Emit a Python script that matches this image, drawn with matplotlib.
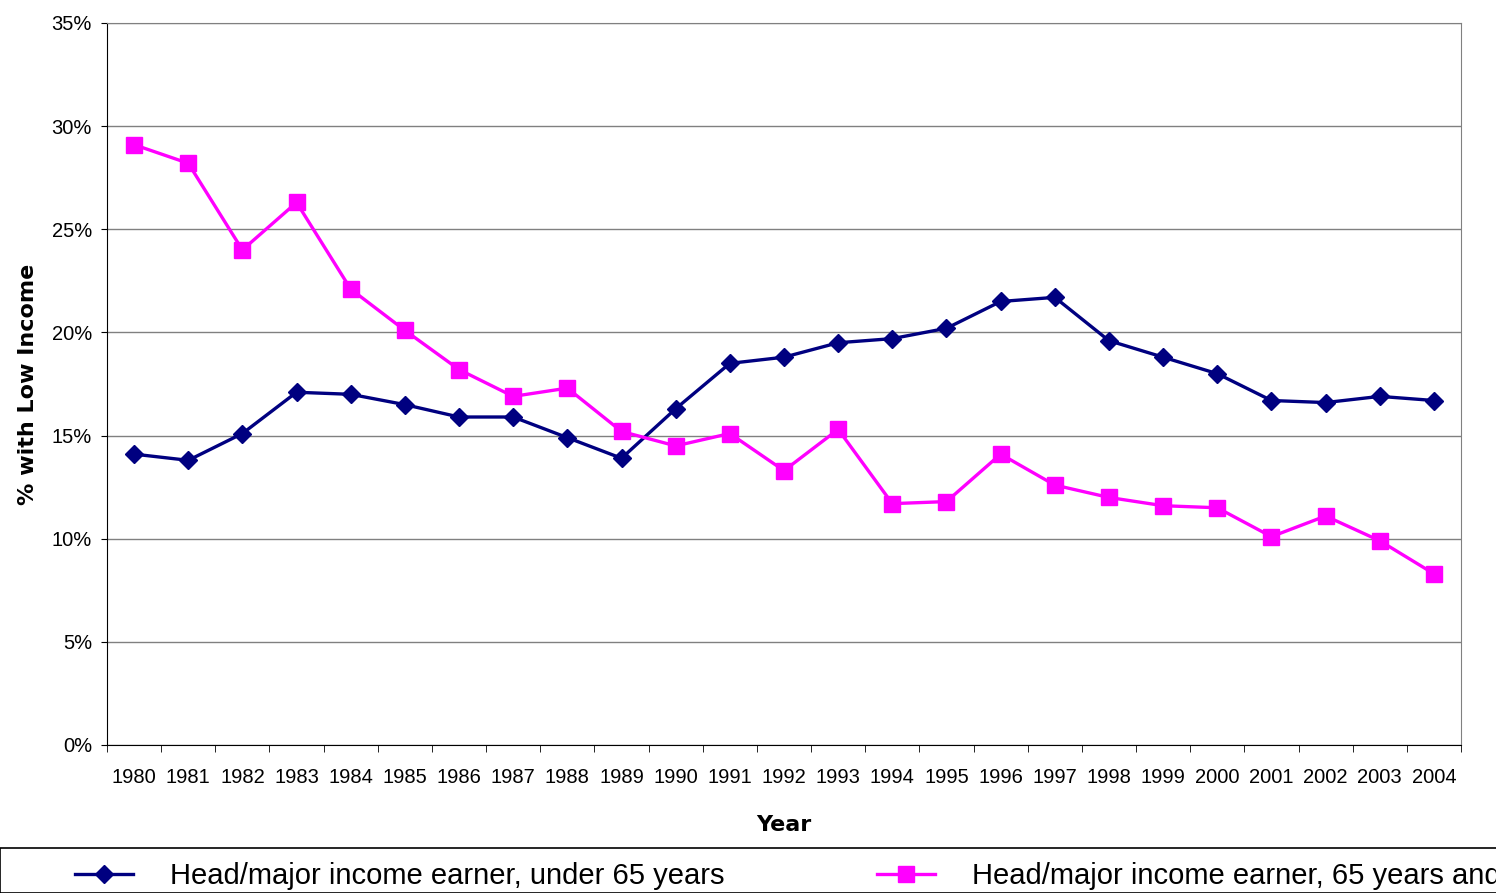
import matplotlib
matplotlib.use("Agg")
import matplotlib.pyplot as plt
from matplotlib.patches import Rectangle
from matplotlib.ticker import FixedLocator, FuncFormatter
import numpy as np

plt.rcParams['font.family'] = ['Liberation Sans', 'DejaVu Sans']

years = [str(y) for y in range(1980, 2005)]
under_65 = [14.1, 13.8, 15.1, 17.1, 17.0, 16.5, 15.9, 15.9, 14.9, 13.9, 16.3, 18.5, 18.8,
            19.5, 19.7, 20.2, 21.5, 21.7, 19.6, 18.8, 18.0, 16.7, 16.6, 16.9, 16.7]
over_65 = [29.1, 28.2, 24.0, 26.3, 22.1, 20.1, 18.2, 16.9, 17.3, 15.2, 14.5, 15.1, 13.3,
           15.3, 11.7, 11.8, 14.1, 12.6, 12.0, 11.6, 11.5, 10.1, 11.1, 9.9, 8.3]
labels = ["Head/major income earner, under 65 years",
          "Head/major income earner, 65 years and over"]

fig = plt.figure(figsize=(14.96, 8.93), dpi=100)
ax = fig.add_axes([107/1496, 1 - 745/893, (1461 - 107)/1496, (745 - 23)/893])

x = np.arange(len(years))
l1, = ax.plot(x, under_65, color='#000080', lw=2.4, marker='D', markersize=9, label=labels[0])
l2, = ax.plot(x, over_65, color='#FF00FF', lw=2.4, marker='s', markersize=12, label=labels[1])

ax.set_xlim(-0.5, len(years) - 0.5)
ax.set_ylim(0, 35)
ax.set_yticks(np.arange(0, 36, 5))
ax.yaxis.set_major_formatter(FuncFormatter(lambda v, p: f"{int(v)}%"))
ax.grid(axis='y', color='#808080', lw=1)
ax.set_axisbelow(True)

ax.set_xticks(x)
ax.set_xticklabels(years)
ax.tick_params(axis='x', which='major', length=0, pad=16.5, labelsize=14.5)
ax.xaxis.set_minor_locator(FixedLocator(np.arange(-0.5, len(years), 1)))
ax.tick_params(axis='x', which='minor', length=5, direction='out', color='black')
ax.tick_params(axis='y', length=4.5, direction='out', labelsize=14.5, pad=6.3)

for s in ['left', 'bottom']:
    ax.spines[s].set_color('black')
for s in ['top', 'right']:
    ax.spines[s].set_color('#808080')

ax.set_xlabel("Year", fontsize=16, fontweight='bold', family='DejaVu Sans', labelpad=20)
ax.set_ylabel("% with Low Income", fontsize=16, fontweight='bold', family='DejaVu Sans',
              labelpad=10)

# legend box along the bottom, running off the right edge
fig.patches.append(Rectangle((0, 0), 1.2, 1 - 848/893, transform=fig.transFigure,
                             fill=False, edgecolor='black', lw=1.2, clip_on=False))
fig.legend(handles=[l1, l2], labels=labels, loc='center left',
           bbox_to_anchor=(75/1496, 1 - 876/893), ncol=2, frameon=False,
           fontsize=21, handlelength=2.0, handletextpad=1.27, columnspacing=5.2,
           borderpad=0, borderaxespad=0)

fig.savefig("out.png", dpi=100)
